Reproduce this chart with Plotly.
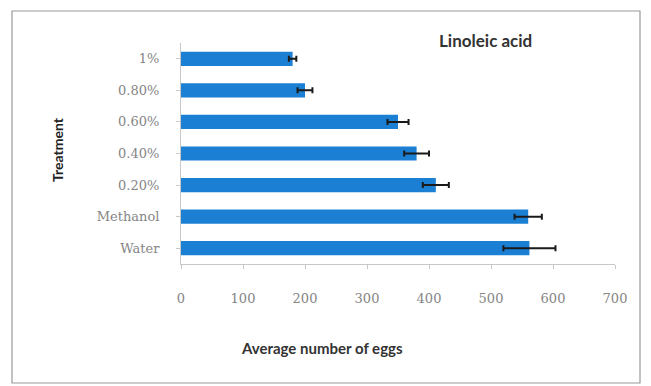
import plotly.graph_objects as go

categories = ["Water", "Methanol", "0.20%", "0.40%", "0.60%", "0.80%", "1%"]
means = [562, 560, 411, 380, 350, 200, 180]
errors = [42, 22, 21, 20, 17, 12, 6]
x_ticks = [0, 100, 200, 300, 400, 500, 600, 700]

fig = go.Figure()
fig.add_trace(go.Bar(
    y=categories, x=means, orientation="h",
    marker=dict(color="#1b7fd4", line=dict(width=0)),
    width=0.45,
    error_x=dict(type="data", array=errors, visible=True, color="#1a1a1a", thickness=2, width=3),
))

L, R, T, B = 181, 36, 43, 122
W, H = 651, 386
pw, ph = W - L - R, H - T - B

def px(xp):
    return (xp - L) / pw

def py(yp):
    return (H - B - yp) / ph

tick_font = dict(family="DejaVu Serif", size=13, color="#858585")

fig.update_layout(
    width=W, height=H,
    margin=dict(l=L, r=R, t=T, b=B),
    paper_bgcolor="white", plot_bgcolor="white",
    showlegend=False,
    xaxis=dict(range=[0, 700], tickvals=x_ticks, showgrid=False, zeroline=False,
               showline=True, linecolor="#c8c8c8", linewidth=1,
               ticks="outside", ticklen=4, tickcolor="#c8c8c8",
               tickfont=tick_font, ticklabelstandoff=18),
    yaxis=dict(categoryorder="array", categoryarray=categories, showgrid=False,
               showline=True, linecolor="#c8c8c8", linewidth=1,
               ticks="outside", ticklen=4, tickcolor="#c8c8c8",
               tickfont=tick_font, ticklabelstandoff=14),
    shapes=[dict(type="rect", xref="paper", yref="paper",
                 x0=px(12), x1=px(640), y0=py(383), y1=py(11),
                 line=dict(color="#9a9a9a", width=1.2), fillcolor="rgba(0,0,0,0)", layer="below")],
    annotations=[
        dict(text="<b>Linoleic acid</b>", xref="paper", yref="paper",
             x=px(437), y=py(40), xanchor="left", yanchor="middle", showarrow=False,
             font=dict(family="Lato", size=17, color="#333")),
        dict(text="<b>Average number of eggs</b>", xref="paper", yref="paper",
             x=px(322), y=py(348), xanchor="center", yanchor="middle", showarrow=False,
             font=dict(family="Lato", size=15, color="#333")),
        dict(text="<b>Treatment</b>", xref="paper", yref="paper",
             x=px(57), y=py(150), xanchor="center", yanchor="middle", showarrow=False,
             textangle=-90, font=dict(family="Lato", size=14, color="#222")),
    ],
)

fig.write_html("out.html")
